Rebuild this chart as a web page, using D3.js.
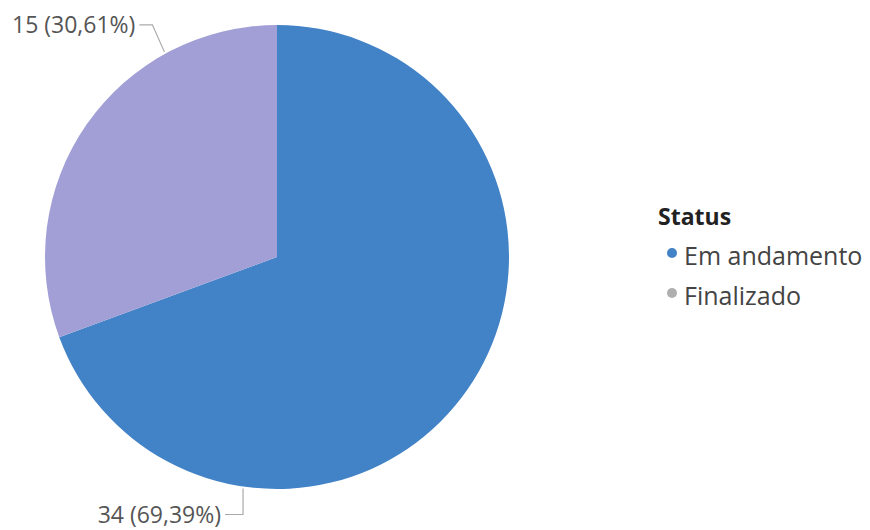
<!DOCTYPE html>
<html>
<head>
<meta charset="utf-8">
<script src="https://cdn.jsdelivr.net/npm/d3@7"></script>
<style>
  body { margin: 0; background: #fff; }
  svg { font-family: "Segoe UI", "Open Sans", "Noto Sans", sans-serif; }
</style>
</head>
<body>
<div id="chart"></div>
<script>
// data
var categories = ["Em andamento", "Finalizado"];
var values = [34, 15];
var sliceColors = ["#4282c6", "#a19fd6"];
var legendColors = ["#4282c6", "#aeaeae"];
var legendTitle = "Status";

var width = 870, height = 530;
var cx = 277, cy = 257, radius = 232;

var svg = d3.select("#chart").append("svg")
  .attr("width", width)
  .attr("height", height);

var total = d3.sum(values);
var fmt = function(v) {
  return v + " (" + (v / total * 100).toFixed(2).replace(".", ",") + "%)";
};

var pie = d3.pie().sort(null).value(function(d) { return d; });
var arcs = pie(values);

var arc = d3.arc().innerRadius(0).outerRadius(radius);

var g = svg.append("g")
  .attr("transform", "translate(" + cx + "," + cy + ")");

g.selectAll("path")
  .data(arcs)
  .enter()
  .append("path")
    .attr("d", arc)
    .attr("fill", function(d, i) { return sliceColors[i]; });

// data labels with leader lines
// where along each slice the leader line touches (fraction of the slice angle)
var anchorFrac = [0.754, 0.739];

arcs.forEach(function(d, i) {
  var a = d.startAngle + (d.endAngle - d.startAngle) * anchorFrac[i];
  var r0 = radius + 2;
  var px = Math.sin(a) * r0, py = -Math.cos(a) * r0;
  var pts, ly;
  if (py < 0) {
    ly = py - 27;
    pts = [[px, py], [px - 12, ly], [px - 25, ly]];
  } else {
    ly = py + 26;
    pts = [[px, py], [px, ly], [px - 18, ly]];
  }
  g.append("path")
    .attr("d", d3.line()(pts))
    .attr("fill", "none")
    .attr("stroke", "#aaa")
    .attr("stroke-width", 1.2);
  g.append("text")
    .attr("x", pts[2][0] - 4)
    .attr("y", ly + 8)
    .attr("text-anchor", "end")
    .style("font-size", "23px")
    .style("fill", "#555")
    .text(fmt(values[i]));
});

// legend
var legend = svg.append("g")
  .attr("transform", "translate(658,225)");

legend.append("text")
  .attr("x", 0)
  .attr("y", 0)
  .style("font-size", "23px")
  .style("font-weight", "bold")
  .style("fill", "#222")
  .text(legendTitle);

var items = legend.selectAll(".item")
  .data(categories)
  .enter()
  .append("g")
    .attr("class", "item")
    .attr("transform", function(d, i) { return "translate(0," + (40 + i * 40) + ")"; });

items.append("circle")
  .attr("cx", 14)
  .attr("cy", -12)
  .attr("r", 5)
  .attr("fill", function(d, i) { return legendColors[i]; });

items.append("text")
  .attr("x", 26)
  .attr("y", 0)
  .style("font-size", "25px")
  .style("fill", "#444")
  .text(function(d) { return d; });
</script>
</body>
</html>
